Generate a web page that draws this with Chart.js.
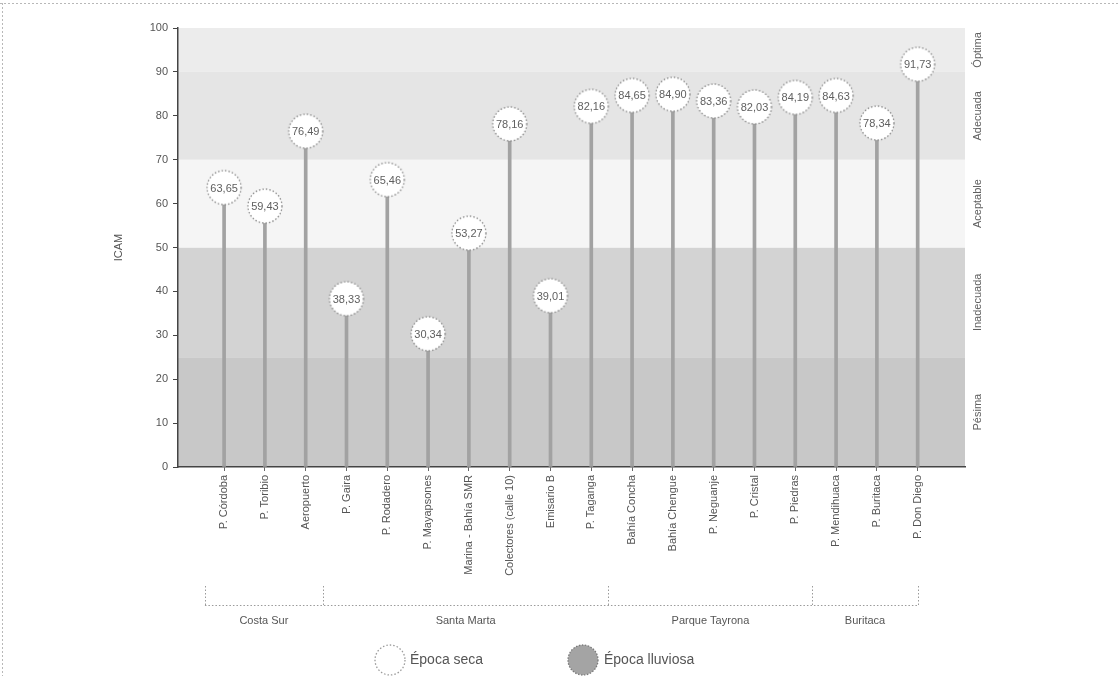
<!DOCTYPE html>
<html><head><meta charset="utf-8">
<script src="https://cdn.jsdelivr.net/npm/chart.js@4"></script>
<style>html,body{margin:0;padding:0;background:#fff}#wrap{width:1118px;height:676px;position:relative}</style>
</head><body><div id="wrap"><canvas id="c"></canvas></div>
<script>
const stations = ['P. Córdoba','P. Toribio','Aeropuerto','P. Gaira','P. Rodadero','P. Mayapsones','Marina - Bahía SMR','Colectores (calle 10)','Emisario B','P. Taganga','Bahía Concha','Bahía Chengue','P. Neguanje','P. Cristal','P. Piedras','P. Mendihuaca','P. Buritaca','P. Don Diego'];
const icamSeca = [63.65, 59.43, 76.49, 38.33, 65.46, 30.34, 53.27, 78.16, 39.01, 82.16, 84.65, 84.90, 83.36, 82.03, 84.19, 84.63, 78.34, 91.73];
const icamLluviosa = [];
const yTicks = [0,10,20,30,40,50,60,70,80,90,100];
const groupNames = ['Costa Sur','Santa Marta','Parque Tayrona','Buritaca'];
const groupStart = [0,3,10,15];
const groupEnd = [2,9,14,17];
const bandNames = ['Pésima','Inadecuada','Aceptable','Adecuada','Óptima'];
const bandLow = [0,25,50,70,90];
const bandHigh = [25,50,70,90,100];
const bandFill = ['#c8c8c8','#d3d3d3','#f5f5f5','#e5e5e5','#ececec'];

const FONT = "'Liberation Sans', Arial, sans-serif";

function dottedCircle(r, fill, stroke, dash) {
  const c = document.createElement('canvas');
  c.width = c.height = 2 * r + 4;
  const g = c.getContext('2d');
  g.beginPath(); g.arc(r + 2, r + 2, r, 0, Math.PI * 2);
  g.fillStyle = fill; g.fill();
  if (dash) g.setLineDash(dash);
  g.lineWidth = 1.3; g.strokeStyle = stroke; g.stroke();
  return c;
}
const secaImg = dottedCircle(17, '#ffffff', '#8a8a8a', [1.5, 2]);
const secaLegendImg = dottedCircle(15, '#ffffff', '#9a9a9a', [1.5, 2]);
const lluvLegendImg = dottedCircle(15, '#a4a4a4', '#7a7a7a', [1.5, 1.5]);

const fmt = v => v.toFixed(2).replace('.', ',');

const bandsPlugin = {
  id: 'bands',
  beforeDraw(chart) {
    const {ctx, chartArea: a, scales: {y}} = chart;
    ctx.save();
    ctx.fillStyle = '#fff';
    ctx.fillRect(0, 0, chart.width, chart.height);
    ctx.strokeStyle = '#b8b8b8'; ctx.setLineDash([2, 2]); ctx.lineWidth = 1;
    ctx.beginPath(); ctx.moveTo(0, 3.5); ctx.lineTo(chart.width, 3.5);
    ctx.moveTo(2.5, 3); ctx.lineTo(2.5, chart.height); ctx.stroke();
    ctx.setLineDash([]);
    bandLow.forEach((lo, i) => {
      const top = y.getPixelForValue(bandHigh[i]);
      const bot = y.getPixelForValue(lo);
      ctx.fillStyle = bandFill[i];
      ctx.fillRect(a.left, top, a.right - a.left, bot - top);
    });
    ctx.restore();
  },
  afterDatasetsDraw(chart) {
    const {ctx, chartArea: a, scales: {x, y}} = chart;
    ctx.save();
    const meta = chart.getDatasetMeta(1);
    ctx.font = '11px ' + FONT; ctx.fillStyle = '#606060';
    ctx.textAlign = 'center'; ctx.textBaseline = 'middle';
    meta.data.forEach((pt, i) => {
      ctx.fillText(fmt(icamSeca[i]), pt.x, pt.y + 1);
    });
    ctx.fillStyle = '#606060';
    bandNames.forEach((n, i) => {
      const yc = y.getPixelForValue((bandLow[i] + bandHigh[i]) / 2);
      ctx.save();
      ctx.translate(a.right + 13, yc);
      ctx.rotate(-Math.PI / 2);
      ctx.fillText(n, 0, 0);
      ctx.restore();
    });
    const by = 605.5, tickTop = 586;
    ctx.strokeStyle = '#9a9a9a'; ctx.lineWidth = 1; ctx.setLineDash([1.5, 2]);
    const bounds = groupStart.map((s, i) => x.getPixelForValue(s - (i === 0 ? 0.47 : 0.58)));
    bounds.push(x.getPixelForValue(groupEnd[groupEnd.length - 1]));
    ctx.beginPath();
    ctx.moveTo(bounds[0], by); ctx.lineTo(bounds[bounds.length - 1], by);
    bounds.forEach(b => { ctx.moveTo(Math.round(b) + 0.5, tickTop); ctx.lineTo(Math.round(b) + 0.5, by); });
    ctx.stroke();
    ctx.setLineDash([]);
    ctx.fillStyle = '#555'; ctx.font = '11px ' + FONT;
    groupNames.forEach((g, i) => {
      ctx.fillText(g, (bounds[i] + bounds[i + 1]) / 2, 621);
    });
    const ly = 660;
    const cx = chart.width / 2;
    ctx.font = '14px ' + FONT; ctx.fillStyle = '#555'; ctx.textAlign = 'left';
    ctx.drawImage(secaLegendImg, cx - 169 - 17, ly - 17);
    ctx.fillText(chart.data.datasets[1].label, cx - 149, ly);
    ctx.drawImage(lluvLegendImg, cx + 24 - 17, ly - 17);
    ctx.fillText(chart.data.datasets[2].label, cx + 45, ly);
    ctx.restore();
  }
};

const ctx = document.getElementById('c');
new Chart(ctx, {
  data: {
    datasets: [
      {
        type: 'bar',
        label: 'stems',
        data: icamSeca.map((v, i) => ({x: i, y: v})),
        backgroundColor: '#a2a2a2',
        barThickness: 3,
        order: 2
      },
      {
        type: 'line',
        label: 'Época seca',
        data: icamSeca.map((v, i) => ({x: i, y: v})),
        showLine: false,
        pointStyle: secaImg,
        pointRadius: 17,
        order: 1
      },
      {
        type: 'line',
        label: 'Época lluviosa',
        data: icamLluviosa,
        showLine: false,
        pointStyle: lluvLegendImg,
        order: 0
      }
    ]
  },
  options: {
    responsive: true,
    maintainAspectRatio: false,
    animation: false,
    events: [],
    layout: {padding: {top: 28, right: 153, left: 112, bottom: 0}},
    plugins: {legend: {display: false}, tooltip: {enabled: false}},
    scales: {
      x: {
        type: 'linear',
        offset: false,
        min: -1.13,
        max: 18.16,
        afterBuildTicks: s => { s.ticks = stations.map((_, i) => ({value: i})); },
        afterFit: s => { s.height = 209; },
        ticks: {
          autoSkip: false,
          minRotation: 90, maxRotation: 90,
          padding: 4,
          color: '#555',
          font: {family: FONT, size: 11},
          callback: v => stations[v] ?? ''
        },
        grid: {drawOnChartArea: false, offset: false, tickLength: 4, color: '#666'},
        border: {color: '#444', width: 1.5}
      },
      y: {
        min: 0, max: 100,
        afterBuildTicks: s => { s.ticks = yTicks.map(v => ({value: v})); },
        afterFit: s => { s.width = 66; },
        ticks: {color: '#555', font: {family: FONT, size: 11}, padding: 5},
        grid: {drawOnChartArea: false, tickLength: 5, color: '#444'},
        border: {color: '#444', width: 1.5},
        title: {display: true, text: 'ICAM', color: '#555', font: {family: FONT, size: 11}, padding: 0}
      }
    }
  },
  plugins: [bandsPlugin]
});
</script>
</body></html>
